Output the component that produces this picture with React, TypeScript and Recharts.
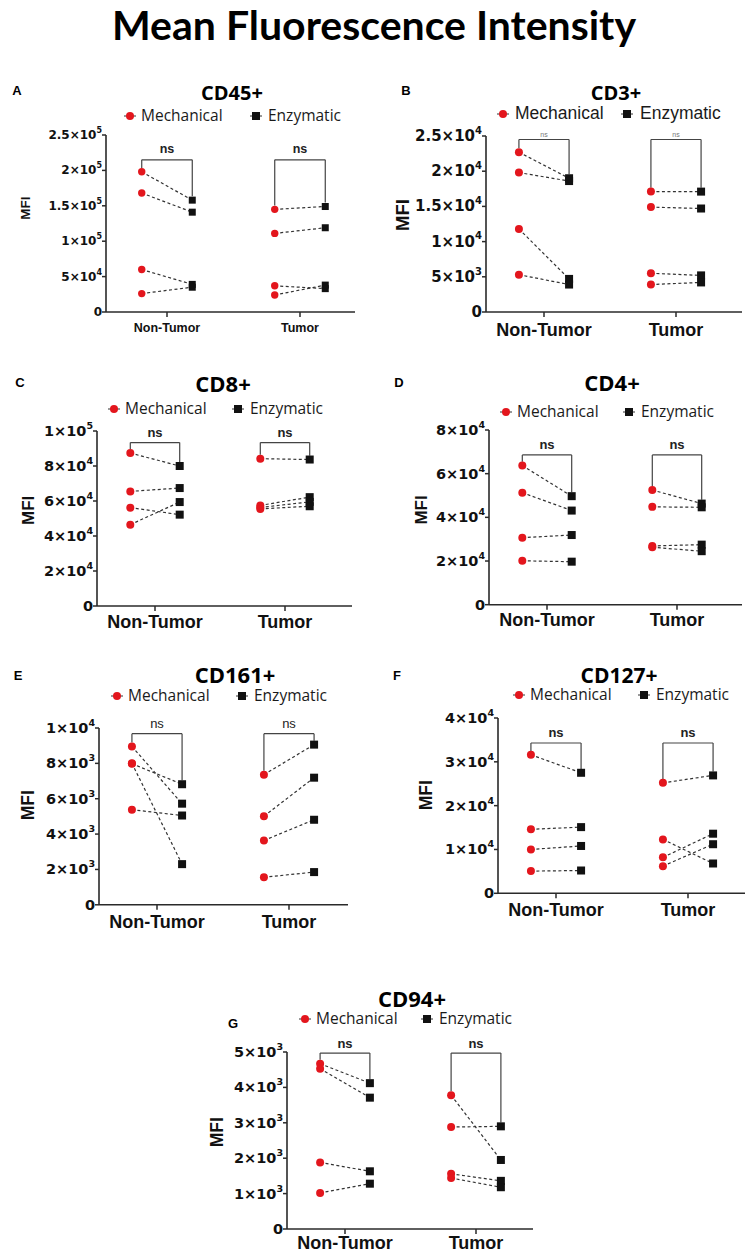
import React from 'react';
import { ComposedChart, Line, Scatter, XAxis, YAxis, ReferenceLine } from 'recharts';

// ---------- data ----------
const CATEGORIES = ['Non-Tumor', 'Tumor'];
const GROUPS = ['Mechanical', 'Enzymatic'];
const NS_LABEL = 'ns';
const MAIN_TITLE = 'Mean Fluorescence Intensity';
const Y_LABEL = 'MFI';

// CD45+
const cd45Ticks = [0, 50000, 100000, 150000, 200000, 250000];
const cd45MechNT = [198000, 168000, 60000, 26000];
const cd45EnzNT = [158000, 141000, 39000, 35000];
const cd45MechT = [145000, 111000, 37000, 24000];
const cd45EnzT = [149000, 119000, 33000, 38000];
const cd45Bracket = 215000;

// CD3+
const cd3Ticks = [0, 5000, 10000, 15000, 20000, 25000];
const cd3MechNT = [22700, 19800, 11800, 5300];
const cd3EnzNT = [19000, 18600, 4700, 3900];
const cd3MechT = [17100, 14900, 5500, 3900];
const cd3EnzT = [17100, 14700, 5200, 4200];
const cd3Bracket = 24500;

// CD8+
const cd8Ticks = [0, 20000, 40000, 60000, 80000, 100000];
const cd8MechNT = [87400, 65500, 56200, 46500];
const cd8EnzNT = [80000, 67400, 52200, 59400];
const cd8MechT = [84200, 57500, 56300, 55500];
const cd8EnzT = [83700, 62200, 59500, 57000];
const cd8Bracket = 93400;

// CD4+
const cd4Ticks = [0, 20000, 40000, 60000, 80000];
const cd4MechNT = [63700, 51300, 30700, 20100];
const cd4EnzNT = [49700, 43100, 31900, 19700];
const cd4MechT = [52500, 44800, 26900, 26300];
const cd4EnzT = [46300, 44600, 27500, 24500];
const cd4Bracket = 68600;

// CD161+
const cd161Ticks = [0, 2000, 4000, 6000, 8000, 10000];
const cd161MechNT = [8960, 7980, 8000, 5380];
const cd161EnzNT = [5720, 6820, 2300, 5050];
const cd161MechT = [7360, 5010, 3640, 1560];
const cd161EnzT = [9060, 7190, 4810, 1850];
const cd161Bracket = 9680;

// CD127+
const cd127Ticks = [0, 10000, 20000, 30000, 40000];
const cd127MechNT = [31600, 14600, 10000, 5060];
const cd127EnzNT = [27500, 15100, 10800, 5200];
const cd127MechT = [25200, 12300, 8200, 6200];
const cd127EnzT = [26900, 6800, 13600, 11200];
const cd127Bracket = 34300;

// CD94+
const cd94Ticks = [0, 1000, 2000, 3000, 4000, 5000];
const cd94MechNT = [4670, 4530, 1880, 1020];
const cd94EnzNT = [4120, 3710, 1630, 1280];
const cd94MechT = [3780, 2880, 1560, 1440];
const cd94EnzT = [1950, 2900, 1360, 1180];
const cd94Bracket = 4970;

// ---------- types ----------
type PanelData = {
  title: string;
  ticks: number[];
  mechNT: number[];
  enzNT: number[];
  mechT: number[];
  enzT: number[];
  bracketTop: number;
};

type PanelLayout = {
  letter: string; letterX: number; letterY: number;
  titleX: number; titleY: number; titleSize: number;
  legendY: number; legendMechX: number; legendEnzX: number;
  legendFont: string; legendSize: number; legendGap: number;
  axisX: number; axisRight: number; yTop: number; y0: number; ntX: number; tX: number;
  tickSize: number; supSize: number;
  xLabelSize: number; xLabelDy: number;
  mfiSize: number; mfiX: number; mfiY: number;
  nsSize: number; nsBold: boolean; nsColor: string; nsGap: number;
  dotR: number; square: number;
};

const PANEL_DATA: PanelData[] = [
  { title: 'CD45+', ticks: cd45Ticks, mechNT: cd45MechNT, enzNT: cd45EnzNT, mechT: cd45MechT, enzT: cd45EnzT, bracketTop: cd45Bracket },
  { title: 'CD3+', ticks: cd3Ticks, mechNT: cd3MechNT, enzNT: cd3EnzNT, mechT: cd3MechT, enzT: cd3EnzT, bracketTop: cd3Bracket },
  { title: 'CD8+', ticks: cd8Ticks, mechNT: cd8MechNT, enzNT: cd8EnzNT, mechT: cd8MechT, enzT: cd8EnzT, bracketTop: cd8Bracket },
  { title: 'CD4+', ticks: cd4Ticks, mechNT: cd4MechNT, enzNT: cd4EnzNT, mechT: cd4MechT, enzT: cd4EnzT, bracketTop: cd4Bracket },
  { title: 'CD161+', ticks: cd161Ticks, mechNT: cd161MechNT, enzNT: cd161EnzNT, mechT: cd161MechT, enzT: cd161EnzT, bracketTop: cd161Bracket },
  { title: 'CD127+', ticks: cd127Ticks, mechNT: cd127MechNT, enzNT: cd127EnzNT, mechT: cd127MechT, enzT: cd127EnzT, bracketTop: cd127Bracket },
  { title: 'CD94+', ticks: cd94Ticks, mechNT: cd94MechNT, enzNT: cd94EnzNT, mechT: cd94MechT, enzT: cd94EnzT, bracketTop: cd94Bracket },
];

const base = {
  titleSize: 22, legendFont: "'Open Sans', sans-serif", legendSize: 15.5, legendGap: 11,
  tickSize: 14.5, supSize: 9.5, xLabelSize: 18, mfiSize: 17,
  nsSize: 13, nsBold: true, nsColor: '#222', nsGap: 10, dotR: 4, square: 8,
};

const LAYOUTS: PanelLayout[] = [
  { ...base, letter: 'A', letterX: 17, letterY: 90, titleX: 232, titleY: 93, titleSize: 20,
    legendY: 116, legendMechX: 130, legendEnzX: 256,
    axisX: 106, axisRight: 355, yTop: 135, y0: 312, ntX: 167, tX: 300,
    tickSize: 12, supSize: 8, xLabelSize: 12.5, xLabelDy: 16, mfiSize: 13.5, mfiX: 25, mfiY: 208,
    nsSize: 12.5, nsGap: 11, dotR: 3.7, square: 7 },
  { ...base, letter: 'B', letterX: 406, letterY: 90, titleX: 616, titleY: 93, titleSize: 20,
    legendY: 114, legendMechX: 503, legendEnzX: 627, legendFont: "'Liberation Sans', Arial, sans-serif", legendSize: 17.5, legendGap: 12,
    axisX: 486, axisRight: 742, yTop: 136, y0: 312, ntX: 544, tX: 676,
    tickSize: 15, supSize: 10, xLabelDy: 18, mfiSize: 18.5, mfiX: 402, mfiY: 215,
    nsSize: 7, nsBold: false, nsColor: '#777', nsGap: 5 },
  { ...base, letter: 'C', letterX: 20, letterY: 382, titleX: 223, titleY: 383,
    legendY: 409, legendMechX: 114, legendEnzX: 238,
    axisX: 97, axisRight: 352, yTop: 430.7, y0: 605.7, ntX: 155, tX: 285,
    xLabelDy: 16, mfiX: 28, mfiY: 510 },
  { ...base, letter: 'D', letterX: 399, letterY: 382, titleX: 612, titleY: 382,
    legendY: 412, legendMechX: 506, legendEnzX: 629,
    axisX: 489, axisRight: 742, yTop: 430, y0: 604.7, ntX: 547, tX: 677,
    xLabelDy: 15, mfiX: 421, mfiY: 510 },
  { ...base, letter: 'E', letterX: 18, letterY: 675, titleX: 235, titleY: 674,
    legendY: 696, legendMechX: 117, legendEnzX: 242,
    axisX: 99, axisRight: 348, yTop: 727.7, y0: 904.5, ntX: 157, tX: 289,
    xLabelDy: 17.5, mfiSize: 17.5, mfiX: 28, mfiY: 805, nsBold: false },
  { ...base, letter: 'F', letterX: 397, letterY: 675, titleX: 619, titleY: 675, titleSize: 21,
    legendY: 695, legendMechX: 519, legendEnzX: 644,
    axisX: 498, axisRight: 745, yTop: 717.7, y0: 893, ntX: 556, tX: 688,
    xLabelDy: 17, mfiSize: 17.5, mfiX: 426, mfiY: 795 },
  { ...base, letter: 'G', letterX: 233, letterY: 1023, titleX: 412, titleY: 998,
    legendY: 1019, legendMechX: 305, legendEnzX: 427,
    axisX: 287, axisRight: 533, yTop: 1051.7, y0: 1228.7, ntX: 345, tX: 476,
    xLabelDy: 14, mfiSize: 17.5, mfiX: 217, mfiY: 1132 },
];

// ---------- helpers ----------
const RED = '#e3161d';
const INK = '#111';
const AXIS = '#2a2a2a';
const SHIFT = 0.19; // paired points sit either side of their category
const YW = 100;
const MT = 30;
const MB = 40;
const MR = 8;

function sci(v: number): { mant: string; exp: string } {
  if (v === 0) return { mant: '0', exp: '' };
  const e = Math.floor(Math.log10(v) + 1e-9);
  const m = +(v / Math.pow(10, e)).toFixed(2);
  return { mant: `${m}×10`, exp: `${e}` };
}

const Abs: React.FC<{ x: number; y: number; center?: boolean; style?: React.CSSProperties; children: React.ReactNode }> = ({ x, y, center = true, style, children }) => (
  <div
    style={{
      position: 'absolute', left: x, top: y, whiteSpace: 'nowrap', lineHeight: 1,
      transform: center ? 'translate(-50%, -50%)' : 'translate(0, -50%)', ...style,
    }}
  >
    {children}
  </div>
);

function Panel({ d, L }: { d: PanelData; L: PanelLayout }) {
  const u = L.tX - L.ntX;
  const domain: [number, number] = [-(L.ntX - L.axisX) / u, (L.axisRight - L.ntX) / u];
  const chartLeft = L.axisX - YW;
  const chartTop = L.yTop - MT;
  const plotH = L.y0 - L.yTop;
  const width = YW + (L.axisRight - L.axisX) + MR;
  const height = MT + plotH + MB;
  const yMax = d.ticks[d.ticks.length - 1];
  const pad = yMax * 0.022;

  const groups = [
    { c: 0, mech: d.mechNT, enz: d.enzNT },
    { c: 1, mech: d.mechT, enz: d.enzT },
  ];

  const mechPoints = groups.flatMap((g) => g.mech.map((y) => ({ x: g.c - SHIFT, y })));
  const enzPoints = groups.flatMap((g) => g.enz.map((y) => ({ x: g.c + SHIFT, y })));

  const YTick = (p: any) => {
    const { mant, exp } = sci(p.payload.value);
    return (
      <text x={p.x + 2} y={p.y} textAnchor="end" dominantBaseline="central"
        fontFamily="'DejaVu Sans', sans-serif" fontWeight="bold" fontSize={L.tickSize} fill={INK}>
        <tspan>{mant}</tspan>
        {exp && <tspan dy={-L.tickSize * 0.42} fontSize={L.supSize}>{exp}</tspan>}
      </text>
    );
  };

  const XTick = (p: any) => (
    <text x={p.x} y={L.y0 - chartTop + L.xLabelDy} textAnchor="middle" dominantBaseline="central"
      fontFamily="'Liberation Sans', Arial, sans-serif" fontWeight="bold" fontSize={L.xLabelSize} fill={INK}>
      {CATEGORIES[p.payload.value]}
    </text>
  );

  const mfi = () => (
    <text transform={`translate(${L.mfiX - chartLeft}, ${L.mfiY - chartTop}) rotate(-90)`}
      textAnchor="middle" dominantBaseline="central"
      fontFamily="'Liberation Sans', Arial, sans-serif" fontWeight="bold" fontSize={L.mfiSize} fill={INK}>
      {Y_LABEL}
    </text>
  );

  return (
    <>
      <Abs x={L.letterX} y={L.letterY} style={{ fontFamily: "'Liberation Sans', Arial, sans-serif", fontWeight: 'bold', fontSize: 13 }}>
        {L.letter}
      </Abs>
      <Abs x={L.titleX} y={L.titleY} style={{ fontFamily: "'Open Sans', sans-serif", fontWeight: 'bold', fontSize: L.titleSize }}>
        {d.title}
      </Abs>
      {[L.legendMechX, L.legendEnzX].map((mx, i) => (
        <React.Fragment key={i}>
          <svg style={{ position: 'absolute', left: mx - 7, top: L.legendY - 7 }} width={14} height={14}>
            <line x1={1} y1={7} x2={13} y2={7} stroke="#333" strokeWidth={1} />
            {i === 0 ? <circle cx={7} cy={7} r={4} fill={RED} /> : <rect x={3} y={3} width={8} height={8} fill={INK} />}
          </svg>
          <Abs x={mx + L.legendGap + (i === 1 ? 1 : 0)} y={L.legendY} center={false}
            style={{ fontFamily: L.legendFont, fontSize: L.legendSize, color: '#1a1a1a' }}>
            {GROUPS[i]}
          </Abs>
        </React.Fragment>
      ))}
      <div style={{ position: 'absolute', left: chartLeft, top: chartTop }}>
        <ComposedChart width={width} height={height} margin={{ top: MT, right: MR, bottom: 0, left: 0 }}>
          <XAxis type="number" dataKey="x" domain={domain} ticks={[0, 1]} interval={0} allowDataOverflow
            height={MB} tick={XTick} tickSize={5} tickLine={{ stroke: AXIS, strokeWidth: 1.5 }}
            axisLine={{ stroke: AXIS, strokeWidth: 1.6 }} />
          <YAxis type="number" domain={[0, yMax]} ticks={d.ticks} interval={0} allowDataOverflow
            width={YW} tick={YTick} tickSize={4} tickLine={{ stroke: AXIS, strokeWidth: 1.5 }}
            axisLine={{ stroke: AXIS, strokeWidth: 1.6 }} label={mfi} />
          {groups.map((g) => {
            const xl = g.c - SHIFT;
            const xr = g.c + SHIFT;
            const top = d.bracketTop;
            const legL = Math.max(...g.mech) + pad;
            const legR = Math.max(...g.enz) + pad;
            const nsLabel = (p: any) => (
              <text x={p.viewBox.x + p.viewBox.width / 2} y={p.viewBox.y - L.nsGap} textAnchor="middle"
                dominantBaseline="central" fontFamily="'Liberation Sans', Arial, sans-serif"
                fontWeight={L.nsBold ? 'bold' : 'normal'} fontSize={L.nsSize} fill={L.nsColor}>
                {NS_LABEL}
              </text>
            );
            return (
              <React.Fragment key={`b${g.c}`}>
                <ReferenceLine segment={[{ x: xl, y: legL }, { x: xl, y: top }]} stroke="#444" strokeWidth={1.2} ifOverflow="visible" />
                <ReferenceLine segment={[{ x: xl, y: top }, { x: xr, y: top }]} stroke="#444" strokeWidth={1.2} ifOverflow="visible" label={nsLabel} />
                <ReferenceLine segment={[{ x: xr, y: top }, { x: xr, y: legR }]} stroke="#444" strokeWidth={1.2} ifOverflow="visible" />
              </React.Fragment>
            );
          })}
          {groups.flatMap((g) =>
            g.mech.map((m, i) => (
              <Line key={`l${g.c}-${i}`} data={[{ x: g.c - SHIFT, y: m }, { x: g.c + SHIFT, y: g.enz[i] }]}
                dataKey="y" stroke="#333" strokeWidth={1.2} strokeDasharray="3 2.5" dot={false} activeDot={false}
                isAnimationActive={false} legendType="none" />
            ))
          )}
          <Scatter name={GROUPS[0]} data={mechPoints} dataKey="y" isAnimationActive={false}
            shape={(p: any) => <circle cx={p.cx} cy={p.cy} r={L.dotR} fill={RED} />} />
          <Scatter name={GROUPS[1]} data={enzPoints} dataKey="y" isAnimationActive={false}
            shape={(p: any) => <rect x={p.cx - L.square / 2} y={p.cy - L.square / 2} width={L.square} height={L.square} fill={INK} />} />
        </ComposedChart>
      </div>
    </>
  );
}

export default function App() {
  return (
    <div style={{ position: 'absolute', left: 0, top: 0, width: 748, height: 1255, background: '#fff', overflow: 'hidden' }}>
      <Abs x={374} y={24} style={{ fontFamily: "Lato, 'Open Sans', sans-serif", fontWeight: 'bold', fontSize: 41, color: '#000' }}>
        {MAIN_TITLE}
      </Abs>
      {PANEL_DATA.map((d, i) => (
        <Panel key={d.title} d={d} L={LAYOUTS[i]} />
      ))}
    </div>
  );
}
